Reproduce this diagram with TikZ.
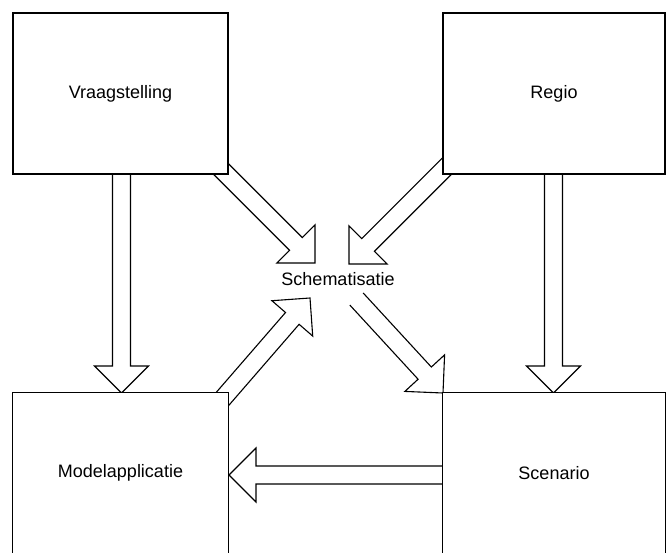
\documentclass[tikz,border=0pt]{standalone}
\usepackage{fontspec}
\setmainfont{Liberation Sans}
\usetikzlibrary{calc}
\tikzset{
  box/.style={rectangle, draw, line width=1.2pt, fill=white, inner sep=0pt, font=\fontsize{18}{21}\selectfont},
  openbox/.style={rectangle, fill=white, inner sep=0pt, font=\fontsize{18}{21}\selectfont},
  boxedge/.style={line width=1.2pt},
  lbl/.style={font=\fontsize{18}{21}\selectfont, inner sep=0pt},
  arrowline/.style={draw, fill=white, line width=1.1pt, line join=miter}
}
\newcommand{\blockarr}[2]{%
  \coordinate (#1base) at ($(#2)!27pt!(#1)$);
  \path[arrowline] ($(#1)!9pt!90:(#2)$) -- ($(#1base)!9pt!90:(#2)$) -- ($(#1base)!27pt!90:(#2)$) -- (#2)
    -- ($(#1base)!27pt!-90:(#2)$) -- ($(#1base)!9pt!-90:(#2)$) -- ($(#1)!9pt!-90:(#2)$);
}
\begin{document}
\begin{tikzpicture}[x=1pt,y=-1pt]
\useasboundingbox (0,0) rectangle (671,553);
% label in the middle
\node[lbl] (schem) at (338,279) {Schematisatie};
% connector end points
\coordinate (aVs) at (200,148);   \coordinate (aVt) at (315,263);
\coordinate (aRs) at (470,143);   \coordinate (aRt) at (349,264);
\coordinate (aMs) at (212,411);   \coordinate (aMt) at (310,298);
\coordinate (aSs) at (356.5,299); \coordinate (aSt) at (443,393);
\coordinate (aVMs) at (121.5,150); \coordinate (aVMt) at (121.5,393);
\coordinate (aRSs) at (553.5,150); \coordinate (aRSt) at (553.5,393);
\coordinate (aSMs) at (470,475);  \coordinate (aSMt) at (229,475);
% block arrows
\blockarr{aVs}{aVt}
\blockarr{aRs}{aRt}
\blockarr{aMs}{aMt}
\blockarr{aSs}{aSt}
\blockarr{aVMs}{aVMt}
\blockarr{aRSs}{aRSt}
\blockarr{aSMs}{aSMt}
% boxes
\node[box, minimum width=215pt, minimum height=161pt] (vraag) at (120.5,93.5) {Vraagstelling};
\node[box, minimum width=222pt, minimum height=161pt] (regio) at (554,93.5) {Regio};
\node[openbox, minimum width=215pt, minimum height=160pt] (model) at (120.5,473) {Modelapplicatie};
\draw[boxedge] (model.south west) -- (model.north west) -- (model.north east) -- (model.south east);
\node[openbox, minimum width=222pt, minimum height=160pt] (scen) at (554,473) {Scenario};
\draw[boxedge] (scen.south west) -- (scen.north west) -- (scen.north east) -- (scen.south east);
\end{tikzpicture}
\end{document}
